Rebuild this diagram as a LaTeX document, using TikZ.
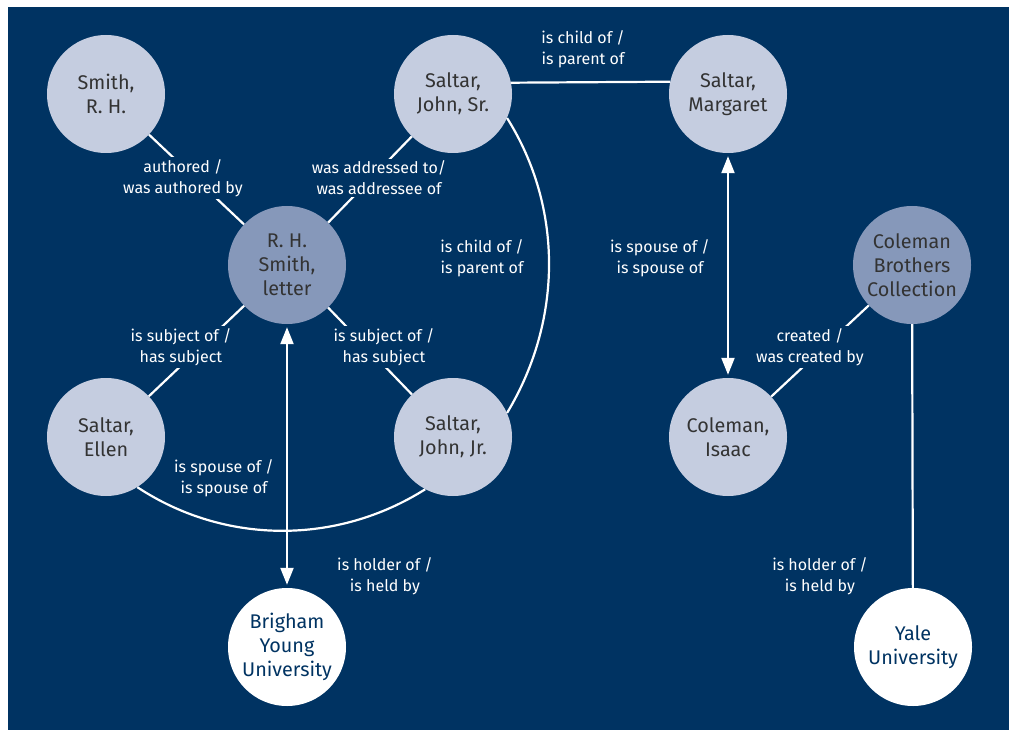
\documentclass[tikz,border=0pt]{standalone}
\usepackage{fontspec}
\setmainfont{Fira Sans}
\usetikzlibrary{arrows.meta}
\definecolor{bg}{RGB}{0,51,98}
\definecolor{lightc}{RGB}{197,205,224}
\definecolor{midc}{RGB}{134,152,186}
\definecolor{txt}{RGB}{51,51,51}
\begin{document}
\begin{tikzpicture}[x=1pt,y=-1pt,
  ent/.style={circle, minimum size=118pt, inner sep=0pt, fill=lightc, text=txt, align=center, font=\fontsize{19.8}{24}\selectfont},
  docnode/.style={ent, fill=midc},
  inst/.style={ent, fill=white, text=bg},
  rel/.style={draw=white, line width=2.2pt},
  dbl/.style={{Triangle[width=13pt,length=17pt]}-{Triangle[width=13pt,length=17pt]}, shorten <=3pt, shorten >=3pt},
  lab/.style={fill=bg, text=white, align=center, inner xsep=5pt, inner ysep=2pt, font=\fontsize{16}{21}\selectfont}
]
\useasboundingbox (0,0) rectangle (1009,730);
\fill[bg] (8,7) rectangle (1009,730);

% entities
\node[ent] (smith) at (106,94) {Smith,\\R. H.};
\node[ent] (johnsr) at (453,94) {Saltar,\\John, Sr.};
\node[ent] (margaret) at (728,94) {Saltar,\\Margaret};
\node[docnode] (letter) at (287,265) {R. H.\\Smith,\\letter};
\node[docnode] (cbc) at (912,265) {Coleman\\Brothers\\Collection};
\node[ent] (ellen) at (106,437) {Saltar,\\Ellen};
\node[ent] (johnjr) at (453,437) {Saltar,\\John, Jr.};
\node[ent] (isaac) at (728,437) {Coleman,\\Isaac};
\node[inst] (byu) at (287,647) {Brigham\\Young\\University};
\node[inst] (yale) at (913,647) {Yale\\University};

% connectors
\draw[rel] (smith) -- (letter);
\draw[rel] (johnsr) -- (letter);
\draw[rel] (letter) -- (ellen);
\draw[rel] (letter) -- (johnjr);
\draw[rel] (johnsr.11.7) -- (margaret.168.3);
\draw[rel] (johnsr.-24) .. controls (563,207) and (563,320) .. (johnjr.24);
\draw[rel] (ellen.-58) .. controls (225,545) and (337,545) .. (johnjr.-118);
\draw[rel, dbl] (letter) -- (byu);
\draw[rel, dbl] (margaret) -- (isaac);
\draw[rel] (isaac) -- (cbc);
\draw[rel] (cbc) -- (yale);

% labels
\node[lab] (l1) at (183,178) {authored /\\was authored by};
\node[lab] (l2) at (379,178) {was addressed to/\\was addressee of};
\node[lab] (l3) at (583,49) {is child of /\\is parent of};
\node[lab] (l4) at (482,258) {is child of /\\is parent of};
\node[lab] (l5) at (660,258) {is spouse of /\\is spouse of};
\node[lab] (l6) at (181,347) {is subject of /\\has subject};
\node[lab] (l7) at (384,347) {is subject of /\\has subject};
\node[lab] (l8) at (810,347) {created /\\was created by};
\node[lab] (l9) at (224,478) {is spouse of /\\is spouse of};
\node[lab] (l10) at (385,576) {is holder of /\\is held by};
\node[lab] (l11) at (820,576) {is holder of /\\is held by};
\end{tikzpicture}
\end{document}
